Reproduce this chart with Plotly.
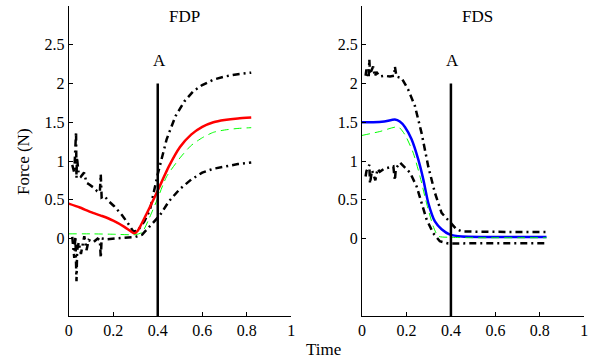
import plotly.graph_objects as go

# ---------------- FDP (left panel) ----------------
fdp_mean_x = [0.0, 0.05, 0.10, 0.15, 0.20, 0.25, 0.28, 0.295, 0.31, 0.35, 0.40, 0.45, 0.50, 0.55, 0.60, 0.65, 0.70, 0.76, 0.82]
fdp_mean_y = [0.45, 0.40, 0.34, 0.29, 0.23, 0.15, 0.09, 0.065, 0.10, 0.32, 0.62, 0.93, 1.18, 1.34, 1.44, 1.50, 1.53, 1.55, 1.56]

fdp_model_x = [0.0, 0.10, 0.20, 0.30, 0.33, 0.36, 0.40, 0.44, 0.50, 0.55, 0.60, 0.65, 0.70, 0.76, 0.82]
fdp_model_y = [0.06, 0.06, 0.055, 0.05, 0.08, 0.25, 0.52, 0.80, 1.04, 1.20, 1.30, 1.37, 1.40, 1.42, 1.43]

fdp_upper_x = [0.016, 0.025, 0.033, 0.035, 0.037, 0.045, 0.055, 0.069, 0.08, 0.091, 0.11, 0.128, 0.140, 0.144, 0.148,
               0.16, 0.18, 0.203, 0.24, 0.27, 0.29, 0.31, 0.34, 0.365, 0.40, 0.44, 0.48, 0.52, 0.56, 0.60, 0.65, 0.70, 0.76, 0.82]
fdp_upper_y = [0.95, 0.85, 1.38, 0.78, 1.05, 0.83, 0.80, 0.85, 0.72, 0.70, 0.66, 0.61, 0.60, 0.83, 0.53,
               0.55, 0.48, 0.42, 0.30, 0.18, 0.09, 0.10, 0.22, 0.37, 0.83, 1.28, 1.58, 1.77, 1.90, 1.98, 2.05, 2.09, 2.12, 2.14]

fdp_lower_x = [0.016, 0.025, 0.030, 0.035, 0.038, 0.045, 0.055, 0.07, 0.08, 0.09, 0.11, 0.13, 0.140, 0.144, 0.148,
               0.17, 0.21, 0.26, 0.30, 0.33, 0.36, 0.41, 0.45, 0.50, 0.55, 0.60, 0.65, 0.70, 0.76, 0.82]
fdp_lower_y = [0.02, -0.25, 0.03, -0.55, -0.15, -0.05, -0.2, 0.03, -0.15, -0.02, -0.05, 0.0, -0.02, -0.25, 0.0,
               -0.01, 0.0, 0.01, 0.02, 0.05, 0.14, 0.30, 0.48, 0.64, 0.76, 0.85, 0.90, 0.93, 0.96, 0.98]

# ---------------- FDS (right panel) ----------------
fds_mean_x = [0.0, 0.05, 0.10, 0.148, 0.17, 0.193, 0.223, 0.253, 0.276, 0.298, 0.328, 0.358, 0.396, 0.45, 0.55, 0.65, 0.75, 0.83]
fds_mean_y = [1.50, 1.50, 1.51, 1.535, 1.51, 1.44, 1.28, 1.02, 0.76, 0.46, 0.22, 0.12, 0.05, 0.025, 0.02, 0.02, 0.02, 0.02]

fds_model_x = [0.0, 0.08, 0.163, 0.193, 0.231, 0.261, 0.29, 0.32, 0.343, 0.40, 0.50, 0.60, 0.70, 0.83]
fds_model_y = [1.33, 1.38, 1.44, 1.34, 1.10, 0.80, 0.46, 0.16, 0.03, 0.015, 0.01, 0.01, 0.01, 0.01]

fds_upper_x = [0.016, 0.02, 0.030, 0.033, 0.036, 0.05, 0.058, 0.065, 0.08, 0.10, 0.126, 0.145, 0.148, 0.155, 0.178,
               0.208, 0.238, 0.268, 0.298, 0.328, 0.358, 0.403, 0.425, 0.45, 0.55, 0.65, 0.75, 0.83]
fds_upper_y = [2.10, 2.18, 2.07, 2.31, 2.12, 2.22, 2.09, 2.15, 2.09, 2.10, 2.09, 2.10, 2.22, 2.09, 2.07,
               1.92, 1.71, 1.36, 0.93, 0.59, 0.33, 0.18, 0.12, 0.09, 0.085, 0.085, 0.085, 0.085]

fds_lower_x = [0.016, 0.02, 0.033, 0.036, 0.045, 0.06, 0.07, 0.08, 0.10, 0.141, 0.148, 0.152, 0.171, 0.193,
               0.216, 0.246, 0.268, 0.29, 0.32, 0.35, 0.388, 0.45, 0.55, 0.65, 0.75, 0.83]
fds_lower_y = [0.80, 0.87, 0.95, 0.71, 0.88, 0.75, 0.90, 0.86, 0.90, 0.93, 0.75, 0.90, 0.98, 0.91,
               0.85, 0.67, 0.46, 0.25, 0.07, -0.035, -0.065, -0.06, -0.06, -0.06, -0.06, -0.06]

# Event marker "A"
event_x = [0.4, 0.4]
event_y = [-1.0, 2.0]

panel_titles = ["FDP", "FDS"]
x_ticks = [0, 0.2, 0.4, 0.6, 0.8, 1]
x_ticktext = ["0", "0.2", "0.4", "0.6", "0.8", "1"]
y_ticks = [0, 0.5, 1, 1.5, 2, 2.5]
y_ticktext = ["0", "0.5", "1", "1.5", "2", "2.5"]

FONT = "Liberation Serif"
band_style = dict(color="black", width=2.5, dash="7px,4px,2px,4px")
model_style = dict(color="#00ff00", width=1, dash="8px,5px")

fig = go.Figure()

panels = [
    ("x", "y", fdp_upper_x, fdp_upper_y, fdp_lower_x, fdp_lower_y, fdp_model_x, fdp_model_y, fdp_mean_x, fdp_mean_y, "#ff0000"),
    ("x2", "y2", fds_upper_x, fds_upper_y, fds_lower_x, fds_lower_y, fds_model_x, fds_model_y, fds_mean_x, fds_mean_y, "#0000ff"),
]
for xa, ya, ux, uy, lx, ly, mx, my, ax_, ay_, col in panels:
    fig.add_trace(go.Scatter(x=ux, y=uy, mode="lines", line=band_style, xaxis=xa, yaxis=ya, showlegend=False))
    fig.add_trace(go.Scatter(x=lx, y=ly, mode="lines", line=band_style, xaxis=xa, yaxis=ya, showlegend=False))
    fig.add_trace(go.Scatter(x=ax_, y=ay_, mode="lines", line=dict(color=col, width=2.5, shape="spline", smoothing=0.6),
                             xaxis=xa, yaxis=ya, showlegend=False))
    fig.add_trace(go.Scatter(x=mx, y=my, mode="lines", line=dict(model_style, shape="spline", smoothing=0.6),
                             xaxis=xa, yaxis=ya, showlegend=False))
    fig.add_trace(go.Scatter(x=event_x, y=event_y, mode="lines", line=dict(color="black", width=2.5),
                             xaxis=xa, yaxis=ya, showlegend=False))

axis_common = dict(range=[0, 1], tickvals=x_ticks, ticktext=x_ticktext, showgrid=False, zeroline=False,
                   showline=True, linecolor="black", linewidth=1, ticks="inside", ticklen=4, tickcolor="black",
                   tickfont=dict(family=FONT, size=16, color="black"), automargin=False)
yaxis_common = dict(range=[-1, 3], tickvals=y_ticks, ticktext=y_ticktext, showgrid=False, zeroline=False,
                    showline=True, linecolor="black", linewidth=1, ticks="inside", ticklen=4, tickcolor="black",
                    tickfont=dict(family=FONT, size=16, color="black"), automargin=False)

ydom = [44 / 360, 354 / 360]
fig.update_layout(
    width=590, height=360,
    margin=dict(l=0, r=0, t=0, b=0, autoexpand=False),
    paper_bgcolor="white", plot_bgcolor="white",
    xaxis=dict(axis_common, domain=[68.7 / 590, 291.3 / 590], anchor="y"),
    yaxis=dict(yaxis_common, domain=ydom, anchor="x"),
    xaxis2=dict(axis_common, domain=[362 / 590, 584.3 / 590], anchor="y2"),
    yaxis2=dict(yaxis_common, domain=ydom, anchor="x2"),
    font=dict(family=FONT, color="black"),
)

annotations = []
for i, (xr, yr) in enumerate([("x", "y"), ("x2", "y2")]):
    annotations.append(dict(x=0.518, y=2.86, xref=xr, yref=yr, text=panel_titles[i], showarrow=False,
                            xanchor="center", yanchor="middle",
                            font=dict(family=FONT, size=17, color="black")))
    annotations.append(dict(x=0.407, y=2.30, xref=xr, yref=yr, text="A", showarrow=False,
                            xanchor="center", yanchor="middle",
                            font=dict(family=FONT, size=17, color="black")))
annotations.append(dict(x=24 / 590, y=(360 - 162) / 360, xref="paper", yref="paper", text="Force (N)",
                        textangle=-90, showarrow=False, xanchor="center", yanchor="middle",
                        font=dict(family=FONT, size=17, color="black")))
annotations.append(dict(x=323 / 590, y=11 / 360, xref="paper", yref="paper", text="Time",
                        showarrow=False, xanchor="center", yanchor="middle",
                        font=dict(family=FONT, size=17, color="black")))
fig.update_layout(annotations=annotations)

fig.write_html("out.html", config={"displayModeBar": False},
               post_script="document.body.style.margin='0';document.body.style.padding='0';")
